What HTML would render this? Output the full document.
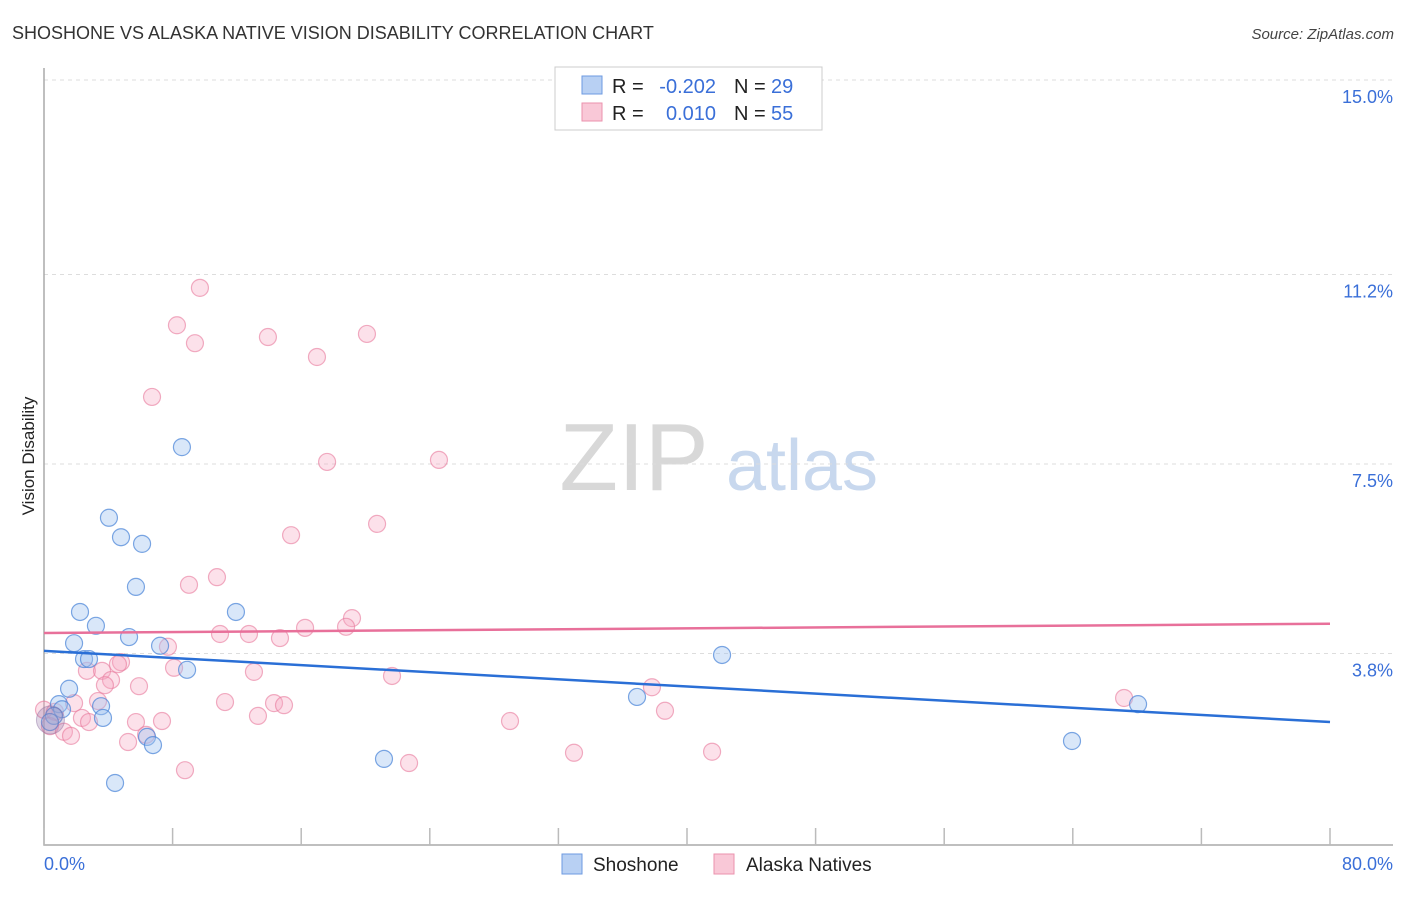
<!DOCTYPE html>
<html><head><meta charset="utf-8"><style>
body{margin:0;background:#fff;font-family:"Liberation Sans",sans-serif;}
svg text{font-family:"Liberation Sans",sans-serif;}
</style></head><body>
<svg id="chart" width="1406" height="892" xmlns="http://www.w3.org/2000/svg">
<text x="12" y="39" font-size="18" fill="#333">SHOSHONE VS ALASKA NATIVE VISION DISABILITY CORRELATION CHART</text>
<text x="1394" y="39" font-size="15" font-style="italic" fill="#444" text-anchor="end">Source: ZipAtlas.com</text>
<text transform="translate(34,456) rotate(-90)" font-size="17" fill="#222" text-anchor="middle">Vision Disability</text>
<g>
<text x="634" y="490" font-size="96" font-family="Liberation Serif" fill="#d8d8d8" text-anchor="middle">ZIP</text>
<text x="802" y="490" font-size="72" fill="#c8d8ee" text-anchor="middle">atlas</text>
</g>
<g id="grid"></g><g id="axes"></g><g id="pts"></g><g id="trend"></g>
<g>
<rect x="555" y="67" width="267" height="63" fill="#fff" stroke="#ccc"/>
<rect x="582" y="76" width="20" height="18" fill="#b8d0f3" stroke="#6d9ae0"/>
<rect x="582" y="103" width="20" height="18" fill="#f9c8d7" stroke="#eb92ad"/>
<text x="612" y="93" font-size="20" fill="#222">R =</text>
<text x="716" y="93" font-size="20" fill="#3a6fd8" text-anchor="end">-0.202</text>
<text x="734" y="93" font-size="20" fill="#222">N =</text>
<text x="771" y="93" font-size="20" fill="#3a6fd8">29</text>
<text x="612" y="120" font-size="20" fill="#222">R =</text>
<text x="716" y="120" font-size="20" fill="#3a6fd8" text-anchor="end">0.010</text>
<text x="734" y="120" font-size="20" fill="#222">N =</text>
<text x="771" y="120" font-size="20" fill="#3a6fd8">55</text>
</g>
<g>
<rect x="562" y="854" width="20" height="20" fill="#b8d0f3" stroke="#6d9ae0"/>
<text x="593" y="871" font-size="19" fill="#222">Shoshone</text>
<rect x="714" y="854" width="20" height="20" fill="#f9c8d7" stroke="#eb92ad"/>
<text x="746" y="871" font-size="19" fill="#222">Alaska Natives</text>
</g>
</svg>
<script>
const yTicks=[3.8,7.5,11.2,15.0];
const yTickLabels=["3.8%","7.5%","11.2%","15.0%"];
const xTicks=[0,8,16,24,32,40,48,56,64,72,80];
const blueX=[8.58,4.04,4.79,6.10,5.72,2.24,3.23,11.94,5.29,1.87,7.22,2.49,2.80,8.90,1.56,0.93,1.12,3.55,0.62,3.67,0.37,6.41,6.78,4.42,21.15,36.89,42.18,63.95,68.06];
const blueY=[7.83,6.45,6.07,5.94,5.10,4.61,4.34,4.61,4.12,4.00,3.95,3.69,3.69,3.48,3.11,2.81,2.71,2.77,2.58,2.54,2.46,2.17,2.01,1.27,1.74,2.95,3.77,2.09,2.81];
const pinkX=[9.70,8.27,9.39,13.93,20.09,16.98,6.72,17.61,24.57,20.72,15.37,10.76,9.02,19.16,16.24,18.79,10.95,12.75,14.68,7.71,4.79,4.60,2.67,3.61,8.09,13.06,21.65,4.17,3.79,5.91,37.82,3.36,1.87,11.26,14.31,14.93,67.19,0,0.68,38.63,13.31,2.36,2.80,5.72,7.34,28.99,0.37,1.24,1.68,5.23,6.35,32.97,41.56,22.71,8.77];
const pinkY=[10.94,10.21,9.86,9.98,10.04,9.59,8.81,7.54,7.58,6.33,6.11,5.29,5.14,4.49,4.30,4.32,4.18,4.18,4.10,3.93,3.63,3.59,3.46,3.46,3.52,3.44,3.36,3.28,3.18,3.16,3.14,2.87,2.83,2.85,2.83,2.79,2.93,2.70,2.66,2.68,2.58,2.54,2.46,2.46,2.48,2.48,2.38,2.27,2.19,2.07,2.21,1.86,1.88,1.66,1.52];
const blueTrend=[3.85,2.46];
const pinkTrend=[4.20,4.38];
const NS="http://www.w3.org/2000/svg";
const X=v=>44+v*16.075, Y=v=>848-v*51.2;
function mk(tag,attrs,parent){const e=document.createElementNS(NS,tag);for(const k in attrs)e.setAttribute(k,attrs[k]);document.getElementById(parent).appendChild(e);return e;}
yTicks.forEach((t,i)=>{
 const l=mk('line',{x1:44,x2:1393,y1:Y(t),y2:Y(t),stroke:'#ddd','stroke-dasharray':'4,4'},'grid');
 
 
 const tx=mk('text',{x:1393,y:Y(t)+23,'font-size':18,fill:'#3a6fd8','text-anchor':'end'},'grid');tx.textContent=yTickLabels[i];
 
 
});
const ax=mk('path',{d:'M44 68 V845 H1393',fill:'none',stroke:'#aaa','stroke-width':1.5},'axes');


xTicks.forEach(t=>{
 const l=mk('line',{x1:X(t),x2:X(t),y1:828,y2:845,stroke:'#bbb','stroke-width':1.5},'axes');
 
 
});
const x0=mk('text',{x:44,y:870,'font-size':18,fill:'#3a6fd8'},'axes');x0.textContent='0.0%';


const x1=mk('text',{x:1393,y:870,'font-size':18,fill:'#3a6fd8','text-anchor':'end'},'axes');x1.textContent='80.0%';


pinkX.forEach((v,i)=>{
 const c=mk('circle',{cx:X(v),cy:Y(pinkY[i]),r:8.5,fill:'rgba(246,170,195,0.35)',stroke:'rgba(232,120,155,0.6)','stroke-width':1.2},'pts');
 
 
});
blueX.forEach((v,i)=>{
 const c=mk('circle',{cx:X(v),cy:Y(blueY[i]),r:8.5,fill:'rgba(160,195,240,0.4)',stroke:'rgba(70,130,215,0.7)','stroke-width':1.2},'pts');
 
 
});
const big=mk('circle',{cx:X(0.4),cy:Y(2.5),r:14,fill:'rgba(150,120,170,0.3)',stroke:'rgba(140,110,160,0.45)'},'pts');


const bt=mk('line',{x1:X(0),x2:X(80),y1:Y(blueTrend[0]),y2:Y(blueTrend[1]),stroke:'#2a6fd6','stroke-width':2.5},'trend');


const pt=mk('line',{x1:X(0),x2:X(80),y1:Y(pinkTrend[0]),y2:Y(pinkTrend[1]),stroke:'#e8709a','stroke-width':2.5},'trend');


</script>
</body></html>
